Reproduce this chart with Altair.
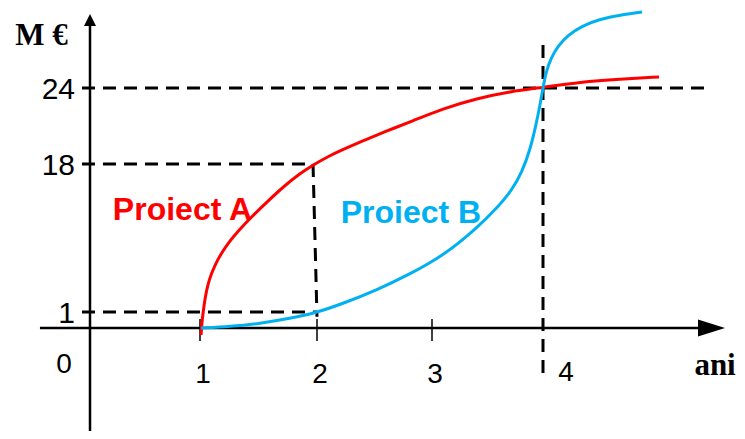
import altair as alt
import pandas as pd

# ---- data (x: ani, y: M €) ----
a_x = [1.009, 1.017, 1.026, 1.043, 1.068, 1.094, 1.128, 1.179, 1.248, 1.325, 1.444, 1.573,
       1.709, 1.855, 1.966, 2.096, 2.226, 2.374, 2.522, 2.661, 2.809, 3.099, 3.405, 3.703,
       4.0, 4.333, 4.694, 5.045]
a_y = [-0.438, 0.375, 0.938, 2.608, 4.216, 5.25, 6.399, 7.662, 9.041, 10.304, 11.97, 13.635,
       15.358, 16.909, 17.885, 18.592, 19.145, 19.737, 20.289, 20.803, 21.316, 22.382, 23.171,
       23.724, 24.05, 24.474, 24.711, 24.868]
b_x = [1.009, 1.256, 1.513, 1.769, 2.0, 2.226, 2.522, 2.809, 3.099, 3.405, 3.586, 3.721,
       3.811, 3.883, 3.937, 3.973, 4.0, 4.027, 4.072, 4.135, 4.225, 4.351, 4.514, 4.694, 4.892]
b_y = [0.0, 0.094, 0.281, 0.594, 0.969, 1.976, 3.527, 5.365, 7.432, 10.649, 12.946, 15.014,
       17.081, 19.105, 21.079, 22.658, 24.0, 25.263, 26.368, 27.316, 28.184, 28.895, 29.447,
       29.763, 30.0]

x_ticks = [1, 2, 3]
y_ticks = [24, 18, 1]
y_tick_labels = ["24", "18", "1"]

# reference (dashed) segments
ref_x = [-0.073, -0.073, 1.966, -0.073, 4.0]
ref_y = [24, 18, 18, 1, 27.4]
ref_x2 = [5.486, 1.966, 2.0, 2.0, 4.0]
ref_y2 = [24, 18, 0.7, 1, -2.94]

# axis extents (data units)
x_axis = (-0.455, 5.414)
y_axis = (-7.2, 28.9)

# ---- scales: hand-drawn, non-uniform spacing ----
xs = alt.Scale(domain=[0, 1, 2, 3, 4], range=[82, 192, 309, 424, 535], nice=False, zero=False)
ys = alt.Scale(domain=[0, 1, 18, 24], range=[320, 304, 156, 80], nice=False, zero=False)

def X(f="x"):
    return alt.X(f, type="quantitative", scale=xs, axis=None)

def Y(f="y"):
    return alt.Y(f, type="quantitative", scale=ys, axis=None)

red = "#FF0000"
blue = "#00B0F0"

lineA = alt.Chart(pd.DataFrame({"x": a_x, "y": a_y})).mark_line(
    interpolate="basis", strokeWidth=3, color=red).encode(x=X(), y=Y())
lineB = alt.Chart(pd.DataFrame({"x": b_x, "y": b_y})).mark_line(
    interpolate="basis", strokeWidth=3, color=blue).encode(x=X(), y=Y())

refs = pd.DataFrame({"x": ref_x, "y": ref_y, "x2": ref_x2, "y2": ref_y2})
dashed = alt.Chart(refs).mark_rule(strokeDash=[13, 8], strokeWidth=3, color="black").encode(
    x=X(), y=Y(), x2="x2", y2="y2")

axes_df = pd.DataFrame({"x": [x_axis[0], 0], "y": [0, y_axis[0]],
                        "x2": [x_axis[1], 0], "y2": [0, y_axis[1]]})
axes = alt.Chart(axes_df).mark_rule(strokeWidth=2.5, color="black").encode(
    x=X(), y=Y(), x2="x2", y2="y2")

ticks_df = pd.DataFrame({"x": x_ticks, "y": [0.5625] * 3, "y2": [-0.8125] * 3})
ticks = alt.Chart(ticks_df).mark_rule(strokeWidth=1.5, color="black").encode(
    x=X(), y=Y(), y2="y2")

arrow_x = alt.Chart(pd.DataFrame({"x": [5.518], "y": [0]})).mark_point(
    shape="M1,0L-1,-0.63L-1,0.63Z", filled=True, size=729, color="black",
    opacity=1, strokeWidth=0).encode(x=X(), y=Y())
arrow_y = alt.Chart(pd.DataFrame({"x": [0], "y": [29.37]})).mark_point(
    shape="M0,-1L1,1L-1,1Z", filled=True, size=144, color="black",
    opacity=1, strokeWidth=0).encode(x=X(), y=Y())

sans = "Liberation Sans"
serif = "Liberation Serif"

ylab = alt.Chart(pd.DataFrame({"x": [0] * 3, "y": y_ticks, "t": y_tick_labels})).mark_text(
    font=sans, fontSize=30, align="right", baseline="alphabetic", dx=-15, dy=11,
    color="black").encode(x=X(), y=Y(), text="t:N")

xlab = alt.Chart(pd.DataFrame({"x": x_ticks, "y": [0] * 3,
                               "t": [str(v) for v in x_ticks]})).mark_text(
    font=sans, fontSize=28, align="center", baseline="alphabetic", dx=3, dy=55,
    color="black").encode(x=X(), y=Y(), text="t:N")

xlab4 = alt.Chart(pd.DataFrame({"x": [4], "y": [0], "t": ["4"]})).mark_text(
    font=sans, fontSize=28, align="center", baseline="alphabetic", dx=23, dy=53,
    color="black").encode(x=X(), y=Y(), text="t:N")

xlab0 = alt.Chart(pd.DataFrame({"x": [0], "y": [0], "t": ["0"]})).mark_text(
    font=sans, fontSize=28, align="center", baseline="alphabetic", dx=-26, dy=45,
    color="black").encode(x=X(), y=Y(), text="t:N")

title_y = alt.Chart(pd.DataFrame({"x": [-0.441], "y": [27.39], "t": ["M €"]})).mark_text(
    font=serif, fontSize=31, fontWeight="bold", align="center", baseline="alphabetic",
    color="black").encode(x=X(), y=Y(), text="t:N")
title_x = alt.Chart(pd.DataFrame({"x": [5.55], "y": [-2.94], "t": ["ani"]})).mark_text(
    font=serif, fontSize=31, fontWeight="bold", align="center", baseline="alphabetic",
    color="black").encode(x=X(), y=Y(), text="t:N")

labA = alt.Chart(pd.DataFrame({"x": [0.841], "y": [11.57], "t": ["Proiect A"]})).mark_text(
    font=sans, fontSize=32, fontWeight="bold", align="center", baseline="alphabetic",
    color=red).encode(x=X(), y=Y(), text="t:N")
labB = alt.Chart(pd.DataFrame({"x": [2.817], "y": [11.22], "t": ["Proiect B"]})).mark_text(
    font=sans, fontSize=32, fontWeight="bold", align="center", baseline="alphabetic",
    color=blue).encode(x=X(), y=Y(), text="t:N")

chart = alt.layer(
    dashed, axes, ticks, arrow_x, arrow_y, lineA, lineB,
    ylab, xlab, xlab4, xlab0, title_y, title_x, labA, labB
).properties(
    width=729, height=423, padding=0,
    autosize=alt.AutoSizeParams(type="none"),
    background="white"
).configure_view(stroke=None)

chart.save("out.html", embed_options={"renderer": "svg", "actions": False})
